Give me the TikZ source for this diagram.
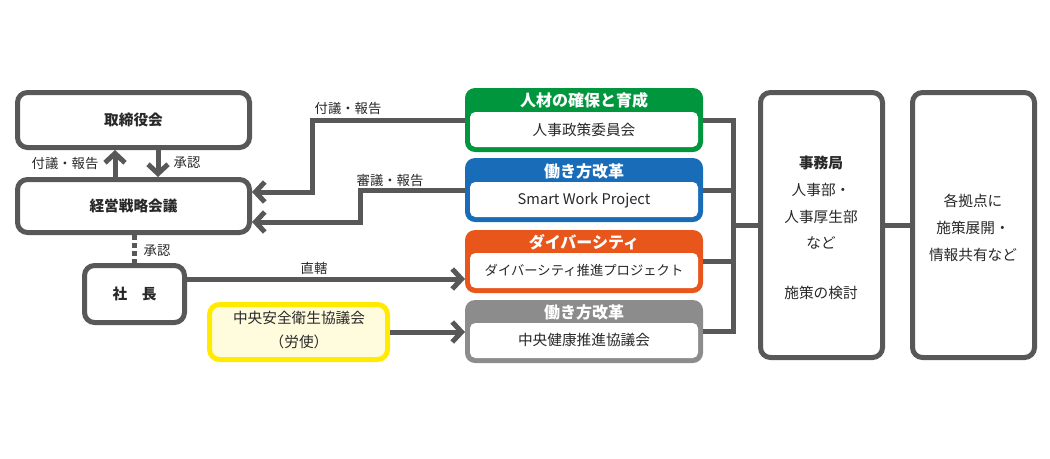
\documentclass[tikz,border=0pt]{standalone}
\usepackage{fontspec}
\setmainfont{Noto Sans CJK JP}
\usetikzlibrary{arrows.meta,fit}
\definecolor{ln}{RGB}{88,88,88}
\definecolor{txt}{RGB}{40,40,40}
\definecolor{cgreen}{RGB}{0,150,62}
\definecolor{cblue}{RGB}{24,108,184}
\definecolor{corange}{RGB}{232,86,28}
\definecolor{cgray}{RGB}{140,140,140}
\definecolor{cyel}{RGB}{255,234,0}
\definecolor{cyelfill}{RGB}{255,252,222}
\begin{document}
\begin{tikzpicture}[x=0.75pt,y=-0.75pt,
  box/.style={draw=ln, line width=3.75pt, rounded corners=7.5pt, fill=white, inner sep=0pt},
  cbox/.style={rounded corners=7.5pt, inner sep=0pt, outer sep=0pt},
  inbox/.style={fill=white, rounded corners=4pt, inner sep=0pt, outer sep=0pt},
  txtn/.style={text=txt, inner sep=0pt, align=center, font=\fontsize{11}{20}\selectfont},
  btxt/.style={txtn, font=\bfseries\fontsize{11}{14}\selectfont},
  hdr/.style={text=white, inner sep=0pt, font=\bfseries\fontsize{12}{14}\selectfont},
  lab/.style={text=txt, inner sep=0pt, font=\fontsize{10}{12}\selectfont},
  conn/.style={draw=ln, line width=3.75pt},
  arr/.style={conn, -{Straight Barb[length=7pt,width=15pt]}}]
\useasboundingbox (0,0) rectangle (1050,458);

% left boxes
\node[box, fit={(17.5,92.5)(249.5,147.5)}] (tori) {};
\node[btxt] (toriT) at (tori.center) {取締役会};
\node[box, fit={(17.5,179.5)(249.5,232.5)}] (keiei) {};
\node[btxt] (keieiT) at (keiei.center) {経営戦略会議};
\node[box, fit={(84.5,265.5)(184.5,322.5)}] (shacho) {};
\node[btxt] (shachoT) at (shacho.center) {社\hspace{1em}長};
\node[box, draw=cyel, fill=cyelfill, fit={(209.5,304.5)(387.5,359.5)}] (anzen) {};
\node[txtn, font=\fontsize{11}{18}\selectfont] (anzenT) at (299,330) {中央安全衛生協議会\\（労使）};

% coloured modules
\node[cbox, fill=cgreen, fit={(465,88)(703,152)}] (g) {};
\node[inbox, fit={(470,112)(698,147)}] (gi) {};
\node[txtn] (giT) at (584,130) {人事政策委員会};
\node[hdr] (gh) at (584,100) {人材の確保と育成};

\node[cbox, fill=cblue, fit={(465,158)(703,222)}] (b) {};
\node[inbox, fit={(470,182)(698,217)}] (bi) {};
\node[txtn] (biT) at (584,200) {Smart Work Project};
\node[hdr] (bh) at (584,171) {働き方改革};

\node[cbox, fill=corange, fit={(465,230)(703,293)}] (o) {};
\node[inbox, fit={(470,253)(698,288)}] (oi) {};
\node[txtn, font=\fontsize{10}{12}\selectfont] (oiT) at (584,270) {ダイバーシティ推進プロジェクト};
\node[hdr] (oh) at (584,242) {ダイバーシティ};

\node[cbox, fill=cgray, fit={(465,300)(703,363)}] (gy) {};
\node[inbox, fit={(470,323)(698,358)}] (gyi) {};
\node[txtn] (gyiT) at (584,340) {中央健康推進協議会};
\node[hdr] (gyh) at (584,312) {働き方改革};

% right boxes
\node[box, fit={(760.5,92.5)(882.5,357.5)}] (jimu) {};
\node[txtn] (jimuT) at (821,228) {\textbf{事務局}\\人事部・\\人事厚生部\\など\\[17pt]施策の検討};
\node[box, fit={(912.5,92.5)(1034.5,357.5)}] (kyo) {};
\node[txtn] (kyoT) at (973,228) {各拠点に\\施策展開・\\情報共有など};

% connectors
\draw[arr] (g.west) -- (312,120) -- (312,192) -- (keiei.east |- 0,192);
\node[lab] (l1) at (348,108) {付議・報告};
\draw[arr] (b.west) -- (360,190) -- (360,222) -- (keiei.east |- 0,222);
\node[lab] (l2) at (390,180) {審議・報告};
\draw[arr] (keiei.north -| 115,0) -- (tori.south -| 115,0);
\node[lab] (l3) at (65,163) {付議・報告};
\draw[arr] (tori.south -| 158,0) -- (keiei.north -| 158,0);
\node[lab] (l4) at (187,163) {承認};
\draw[conn, dash pattern=on 4pt off 2pt] (keiei.south -| 134,0) -- (shacho.north -| 134,0);
\node[lab] (l5) at (157,251) {承認};
\draw[arr] (shacho.east |- 0,279) -- (o.west |- 0,279);
\node[lab] (l6) at (314,268) {直轄};
\draw[arr] (anzen.east) -- (gy.west |- anzen.east);

\coordinate (br) at (733,225);
\draw[conn] (g.east) -| (br);
\draw[conn] (gy.east) -| (br);
\draw[conn] (b.east) -- (b.east -| br);
\draw[conn] (o.east) -- (o.east -| br);
\draw[conn] (br) -- (jimu.west |- br);
\draw[conn] (jimu.east) -- (kyo.west);
\end{tikzpicture}
\end{document}
